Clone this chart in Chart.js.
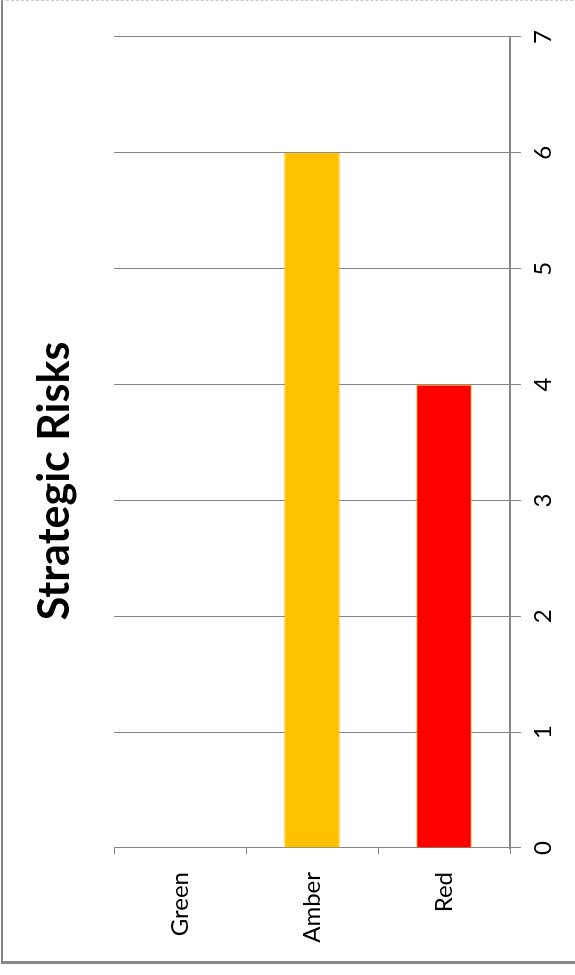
<!DOCTYPE html>
<html>
<head>
<meta charset="utf-8">
<script src="https://cdn.jsdelivr.net/npm/chart.js@4/dist/chart.umd.min.js"></script>
<style>
  body { margin: 0; background: #fff; width: 575px; height: 975px; overflow: hidden; position: relative; }
  #frame { position: absolute; left: 1px; top: 0; width: 600px; height: 960px;
           border-left: 2px solid #878787; border-bottom: 3px solid #878787; border-top: 1px dashed #c8c8c8; }
  /* the chart is drawn as a horizontal bar chart and turned a quarter turn to the left */
  #wrap { position: absolute; left: 0; top: 0; width: 975px; height: 575px;
          transform-origin: 0 0; transform: translate(0, 975px) rotate(-90deg); }
</style>
</head>
<body>
<div id="frame"></div>
<div id="wrap"><canvas id="chart" width="975" height="575"></canvas></div>
<script>
const categories = ['Green', 'Amber', 'Red'];
const riskCounts = [0, 6, 4];
const barColors = ['#00B050', '#FFC000', '#FF0000'];
const valueTicks = [0, 1, 2, 3, 4, 5, 6, 7];
const chartTitle = 'Strategic Risks';

// title sits a bit off the canvas centre, so it is painted here instead of by the title plugin
const titlePlugin = {
  id: 'sideTitle',
  afterDraw(chart) {
    const c = chart.ctx;
    c.save();
    c.font = 'bold 43px Lato';
    c.fillStyle = '#000';
    c.textAlign = 'center';
    c.textBaseline = 'middle';
    c.fillText(chartTitle, 494, 55);
    c.restore();
  }
};

const ctx = document.getElementById('chart').getContext('2d');
new Chart(ctx, {
  type: 'bar',
  data: {
    labels: categories,
    datasets: [{
      data: riskCounts,
      backgroundColor: barColors,
      borderColor: '#FFC000',
      borderWidth: 1,
      barPercentage: 0.42,
      categoryPercentage: 1
    }]
  },
  options: {
    indexAxis: 'y',
    responsive: false,
    animation: false,
    layout: { padding: { top: 114, right: 37, bottom: 0, left: 0 } },
    scales: {
      x: {
        min: valueTicks[0],
        max: valueTicks[valueTicks.length - 1],
        afterBuildTicks: (s) => { s.ticks = valueTicks.map(v => ({ value: v })); },
        afterFit: (s) => { s.height = 65; },
        grid: { color: '#868686', lineWidth: 1, tickLength: 11 },
        border: { color: '#868686', width: 2 },
        ticks: { color: '#000', padding: 8, maxRotation: 0, font: { family: 'Lato', size: 24 } }
      },
      y: {
        afterFit: (s) => { s.width = 127; },
        grid: { drawOnChartArea: false, color: '#868686', tickLength: 6, offset: true },
        border: { color: '#868686', width: 1 },
        ticks: { color: '#000', padding: 18, font: { family: 'Lato', size: 24 } }
      }
    },
    plugins: {
      legend: { display: false },
      tooltip: { enabled: false },
      title: { display: false }
    }
  },
  plugins: [titlePlugin]
});
</script>
</body>
</html>
